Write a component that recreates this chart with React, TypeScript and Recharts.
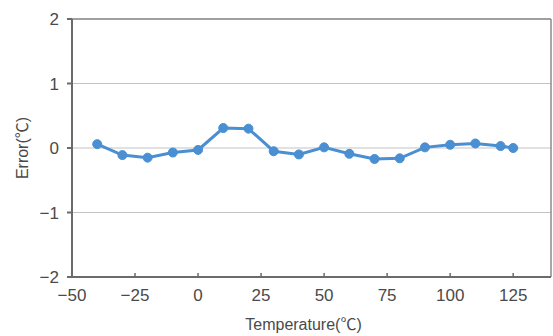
import { LineChart, Line, XAxis, YAxis, CartesianGrid, ReferenceLine, Label } from "recharts"

// temperature (℃) vs measured error (℃)
const temps = [-40, -30, -20, -10, 0, 10, 20, 30, 40, 50, 60, 70, 80, 90, 100, 110, 120, 125]
const errors = [0.06, -0.11, -0.15, -0.07, -0.03, 0.31, 0.3, -0.05, -0.1, 0.01, -0.09, -0.17, -0.16, 0.01, 0.05, 0.07, 0.03, 0.0]
const xTicks = [-50, -25, 0, 25, 50, 75, 100, 125]
const yTicks = [-2, -1, 0, 1, 2]

const data = temps.map((t, i) => ({ temp: t, error: errors[i] }))

const fontFamily = '"Liberation Sans", "Noto Sans CJK KR", sans-serif'
const textColor = "#4a4a4a"
const axisColor = "#6b6b6b"

const fmt = (v: number) => String(v).replace("-", "\u2212")

// x ticks point up into the plot, labels below the axis
function XTick(props: any) {
  const { x, y, payload } = props
  const axisY = y - 12
  return (
    <g>
      <line x1={x} x2={x} y1={axisY} y2={axisY - 4} stroke={axisColor} strokeWidth={1.5} />
      <text x={x} y={y} dy="0.71em" textAnchor="middle" fill={textColor} fontSize={17} fontFamily={fontFamily}>
        {fmt(payload.value)}
      </text>
    </g>
  )
}

export default function App() {
  return (
    <div style={{ position: "fixed", left: 0, top: 0, background: "#fff" }}>
      <LineChart width={553} height={336} data={data} margin={{ top: 19, right: 2, bottom: 0, left: 0 }}>
        <CartesianGrid vertical={false} stroke="#c4c4c4" strokeWidth={1.2} />
        <XAxis
          type="number"
          dataKey="temp"
          domain={[-50, 140]}
          ticks={xTicks}
          tickSize={0}
          tickMargin={12}
          tickLine={false}
          tick={<XTick />}
          height={59}
          stroke={axisColor}
          strokeWidth={2}
          interval={0}
        >
          <Label
            value="Temperature(℃)"
            position="insideBottom"
            offset={6}
            dx={-8}
            fill={textColor}
            fontSize={16}
            fontFamily={fontFamily}
          />
        </XAxis>
        <YAxis
          type="number"
          domain={[-2, 2]}
          ticks={yTicks}
          width={72}
          tickSize={5}
          tickMargin={8}
          tickFormatter={fmt}
          stroke={axisColor}
          strokeWidth={2}
          tick={{ fill: textColor, fontSize: 17, fontFamily }}
          interval={0}
        >
          <Label
            value="Error(℃)"
            angle={-90}
            position="insideLeft"
            offset={22}
            fill={textColor}
            fontSize={16}
            fontFamily={fontFamily}
            style={{ textAnchor: "middle" }}
          />
        </YAxis>
        <ReferenceLine y={2} stroke="#8a8a8a" strokeWidth={1.5} />
        <ReferenceLine x={140} stroke="#8a8a8a" strokeWidth={1.5} />
        <Line
          type="linear"
          dataKey="error"
          stroke="#4a8fd2"
          strokeWidth={3}
          dot={{ r: 4.5, fill: "#4a8fd2", stroke: "#4a8fd2", strokeWidth: 1 }}
          isAnimationActive={false}
        />
      </LineChart>
    </div>
  )
}
